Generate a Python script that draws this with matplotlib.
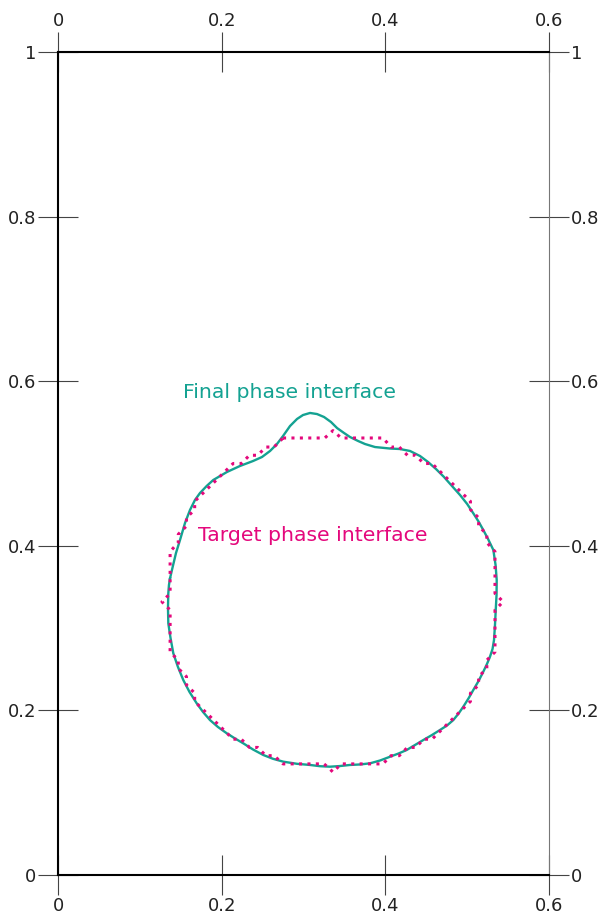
import matplotlib
matplotlib.use("Agg")
import matplotlib.pyplot as plt

# axis ticks / labels
x_ticks = [0, 0.2, 0.4, 0.6]
x_tick_labels = ["0", "0.2", "0.4", "0.6"]
y_ticks = [0, 0.2, 0.4, 0.6, 0.8, 1.0]
y_tick_labels = ["0", "0.2", "0.4", "0.6", "0.8", "1"]

# target phase interface (staircase contour), clockwise from top flat
target_x = [0.275, 0.326, 0.336, 0.346, 0.397, 0.407, 0.417, 0.427, 0.437, 0.447, 0.457,
            0.504, 0.504, 0.514, 0.514, 0.524, 0.524, 0.534, 0.534, 0.539, 0.544, 0.539,
            0.534, 0.534, 0.524, 0.524, 0.514, 0.514, 0.504, 0.504, 0.457, 0.447, 0.437,
            0.427, 0.417, 0.407, 0.397, 0.346, 0.341, 0.336, 0.331, 0.325, 0.275, 0.264,
            0.254, 0.244, 0.234, 0.224, 0.214, 0.167, 0.167, 0.157, 0.157, 0.147, 0.147,
            0.137, 0.137, 0.132, 0.127, 0.132, 0.137, 0.137, 0.147, 0.147, 0.157, 0.157,
            0.167, 0.167, 0.214, 0.224, 0.234, 0.244, 0.254, 0.264, 0.275]
target_y = [0.531, 0.531, 0.540, 0.531, 0.531, 0.520, 0.520, 0.510, 0.510, 0.500, 0.500,
            0.454, 0.444, 0.434, 0.424, 0.414, 0.404, 0.393, 0.342, 0.337, 0.332, 0.327,
            0.322, 0.271, 0.261, 0.251, 0.241, 0.231, 0.221, 0.211, 0.165, 0.165, 0.155,
            0.155, 0.145, 0.145, 0.135, 0.135, 0.130, 0.125, 0.130, 0.135, 0.135, 0.145,
            0.145, 0.155, 0.155, 0.165, 0.165, 0.211, 0.221, 0.231, 0.241, 0.251, 0.261,
            0.271, 0.322, 0.327, 0.332, 0.337, 0.342, 0.393, 0.404, 0.414, 0.424, 0.434,
            0.444, 0.454, 0.500, 0.500, 0.510, 0.510, 0.520, 0.520, 0.531]

# final phase interface (smooth curve), clockwise from the left side
final_x = [0.1369, 0.1402, 0.1442, 0.1491, 0.1552, 0.1613, 0.1674, 0.1735, 0.1817, 0.1898,
           0.2065, 0.2224, 0.2383, 0.2493, 0.2591, 0.2676, 0.2750, 0.2835, 0.2921, 0.2994,
           0.3080, 0.3165, 0.3251, 0.3336, 0.3410, 0.3495, 0.3568, 0.3666, 0.3751, 0.3874,
           0.4057, 0.4179, 0.4302, 0.4424, 0.4522, 0.4619, 0.4717, 0.4815, 0.4913, 0.5000,
           0.5075, 0.5139, 0.5197, 0.5255, 0.5320, 0.5347, 0.5361, 0.5359, 0.5349, 0.5340,
           0.5328, 0.5310, 0.5279, 0.5242, 0.5197, 0.5139, 0.5075, 0.5016, 0.4953, 0.4895,
           0.4831, 0.4754, 0.4668, 0.4570, 0.4464, 0.4363, 0.4261, 0.4161, 0.4057, 0.3935,
           0.3813, 0.3691, 0.3568, 0.3446, 0.3324, 0.3202, 0.3080, 0.2921, 0.2753, 0.2627,
           0.2509, 0.2383, 0.2264, 0.2163, 0.2062, 0.1955, 0.1857, 0.1772, 0.1695, 0.1607,
           0.1531, 0.1466, 0.1409, 0.1375, 0.1348, 0.1344, 0.1348, 0.1356, 0.1369]
final_y = [0.3605, 0.3746, 0.3913, 0.4071, 0.4277, 0.4435, 0.4557, 0.4641, 0.4727, 0.4800,
           0.4897, 0.4970, 0.5030, 0.5079, 0.5152, 0.5237, 0.5334, 0.5455, 0.5541, 0.5589,
           0.5614, 0.5601, 0.5565, 0.5504, 0.5431, 0.5371, 0.5322, 0.5274, 0.5237, 0.5200,
           0.5182, 0.5176, 0.5152, 0.5091, 0.5018, 0.4933, 0.4836, 0.4726, 0.4617, 0.4508,
           0.4395, 0.4295, 0.4192, 0.4083, 0.3949, 0.3767, 0.3584, 0.3402, 0.3220, 0.3038,
           0.2855, 0.2746, 0.2653, 0.2564, 0.2470, 0.2357, 0.2248, 0.2145, 0.2045, 0.1962,
           0.1883, 0.1817, 0.1762, 0.1701, 0.1640, 0.1580, 0.1519, 0.1476, 0.1437, 0.1391,
           0.1357, 0.1343, 0.1337, 0.1324, 0.1316, 0.1322, 0.1337, 0.1351, 0.1377, 0.1412,
           0.1458, 0.1525, 0.1600, 0.1659, 0.1722, 0.1798, 0.1883, 0.1981, 0.2086, 0.2224,
           0.2369, 0.2527, 0.2694, 0.2880, 0.3058, 0.3244, 0.3423, 0.3524, 0.3605]

teal = "#14a292"
pink = "#e4087c"

fig = plt.figure(figsize=(5.99, 9.18), dpi=100)
ax = fig.add_axes([58 / 599, 43 / 918, 491 / 599, 823 / 918])

ax.plot(final_x, final_y, color=teal, lw=1.7, solid_joinstyle="round")
ax.plot(target_x, target_y, color=pink, lw=2.2, linestyle=(0, (1, 1.75)),
        dash_capstyle="butt")

ax.text(0.2835, 0.5857, "Final phase interface", color=teal, fontsize=14.7,
        ha="center", va="center")
ax.text(0.3116, 0.4131, "Target phase interface", color=pink, fontsize=14.7,
        ha="center", va="center")

ax.set_xlim(0, 0.6)
ax.set_ylim(0, 1)
ax.set_xticks(x_ticks)
ax.set_xticklabels(x_tick_labels)
ax.set_yticks(y_ticks)
ax.set_yticklabels(y_tick_labels)

ax.tick_params(top=True, right=True, labeltop=True, labelright=True,
               direction="inout", length=29, width=0.8, color="#444444",
               labelsize=13, labelcolor="#222222", pad=1)

for side in ["left", "top", "bottom"]:
    ax.spines[side].set_linewidth(1.5)
    ax.spines[side].set_color("black")
ax.spines["right"].set_linewidth(0.8)
ax.spines["right"].set_color("#777777")

fig.savefig("out.png", dpi=100)
